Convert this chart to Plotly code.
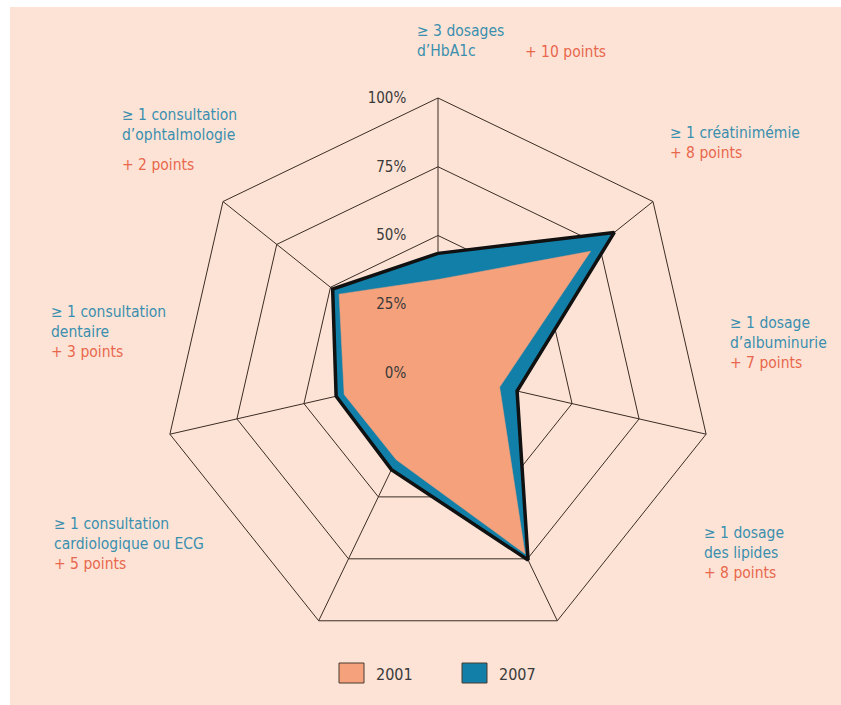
import plotly.graph_objects as go

W, H = 841, 705

categories = [
    "≥ 3 dosages d’HbA1c",
    "≥ 1 créatinimémie",
    "≥ 1 dosage d’albuminurie",
    "≥ 1 dosage des lipides",
    "≥ 1 consultation cardiologique ou ECG",
    "≥ 1 consultation dentaire",
    "≥ 1 consultation d’ophtalmologie",
]
values_2001 = [34, 71, 23, 73, 35, 35, 46]
values_2007 = [43.5, 82, 29.5, 75.5, 39, 38, 49]
radial_ticks = [0, 25, 50, 75, 100]
radial_tick_labels = ["0%", "25%", "50%", "75%", "100%"]

label_lines = [
    ["≥ 3 dosages", "d’HbA1c"],
    ["≥ 1 créatinimémie"],
    ["≥ 1 dosage", "d’albuminurie"],
    ["≥ 1 dosage", "des lipides"],
    ["≥ 1 consultation", "cardiologique ou ECG"],
    ["≥ 1 consultation", "dentaire"],
    ["≥ 1 consultation", "d’ophtalmologie"],
]
gains = ["+ 10 points", "+ 8 points", "+ 7 points", "+ 8 points",
         "+ 5 points", "+ 3 points", "+ 2 points"]

BG = "#fde3d6"
SALMON = "#f4a17c"
TEAL = "#117fa7"
TXT_TEAL = "#3a8fae"
TXT_ORANGE = "#e8674c"
GRID = "#3b2c24"
FONT = "Liberation Sans Narrow, DejaVu Sans Condensed, Lato, sans-serif"

def close(v):
    return list(v) + [v[0]]

fig = go.Figure()
fig.add_trace(go.Scatterpolar(
    r=close(values_2007), theta=close(categories), name="2007",
    fill="toself", fillcolor=TEAL, mode="lines",
    line=dict(color="#111111", width=3.5), showlegend=False, hoverinfo="skip"))
fig.add_trace(go.Scatterpolar(
    r=close(values_2001), theta=close(categories), name="2001",
    fill="toself", fillcolor=SALMON, mode="lines",
    line=dict(color=SALMON, width=0.5), showlegend=False, hoverinfo="skip"))

cx, cy, R = 438, 373, 275
fig.update_layout(
    width=W, height=H,
    margin=dict(l=0, r=0, t=0, b=0),
    paper_bgcolor="white",
    plot_bgcolor=BG,
    font=dict(family=FONT, size=15, color="#3a3a3a"),
    polar=dict(
        bgcolor=BG,
        gridshape="linear",
        domain=dict(x=[(cx - R) / W, (cx + R) / W],
                    y=[1 - (cy + R) / H, 1 - (cy - R) / H]),
        angularaxis=dict(
            rotation=90, direction="clockwise",
            showticklabels=False, ticks="",
            showline=True, linecolor=GRID, linewidth=1,
            showgrid=True, gridcolor=GRID, gridwidth=1,
        ),
        radialaxis=dict(
            range=[0, 100], angle=90, tickangle=90,
            tickvals=radial_ticks, ticktext=radial_tick_labels,
            showline=False, ticks="outside", ticklen=26,
            tickcolor="rgba(0,0,0,0)",
            showgrid=True, gridcolor=GRID, gridwidth=1,
            tickfont=dict(family=FONT, size=15, color="#3a3a3a"),
            side="counterclockwise",
        ),
    ),
)

# peach background panel
fig.add_shape(type="rect", xref="paper", yref="paper",
              x0=10 / W, x1=1, y0=0, y1=1 - 7 / H,
              fillcolor=BG, line=dict(width=0), layer="below")

# category labels (left x, block center y in pixels)
label_pos = [(415, 41), (668, 143), (728, 343), (702, 553), (52, 544), (49, 332), (120, 125)]
gain_inline = [False, True, True, True, True, True, False]
gain_sep_pos = {0: (523, 52), 6: (120, 165)}

for i, lines in enumerate(label_lines):
    x, y = label_pos[i]
    parts = [f"<span style='color:{TXT_TEAL}'>{l}</span>" for l in lines]
    if gain_inline[i]:
        parts.append(f"<span style='color:{TXT_ORANGE}'>{gains[i]}</span>")
    fig.add_annotation(x=x / W, y=1 - y / H, xref="paper", yref="paper",
                       xanchor="left", yanchor="middle", align="left",
                       showarrow=False, text="<br>".join(parts),
                       font=dict(family=FONT, size=15.5, color=TXT_TEAL))
for i, (x, y) in gain_sep_pos.items():
    fig.add_annotation(x=x / W, y=1 - y / H, xref="paper", yref="paper",
                       xanchor="left", yanchor="middle", showarrow=False,
                       text=gains[i], font=dict(family=FONT, size=15.5, color=TXT_ORANGE))

# legend
legend_items = [("2001", SALMON, 339), ("2007", TEAL, 462)]
for name, col, x0 in legend_items:
    fig.add_shape(type="rect", xref="paper", yref="paper",
                  x0=x0 / W, x1=(x0 + 25) / W, y0=1 - 683 / H, y1=1 - 663 / H,
                  fillcolor=col, line=dict(color="#4a3a30", width=1))
    fig.add_annotation(x=(x0 + 35) / W, y=1 - 674 / H, xref="paper", yref="paper",
                       xanchor="left", yanchor="middle", showarrow=False,
                       text=name, font=dict(family=FONT, size=16, color="#3a3a3a"))

fig.write_html("out.html", config={"displayModeBar": False},
               post_script="document.body.style.margin='0px';document.body.style.overflow='hidden';")
